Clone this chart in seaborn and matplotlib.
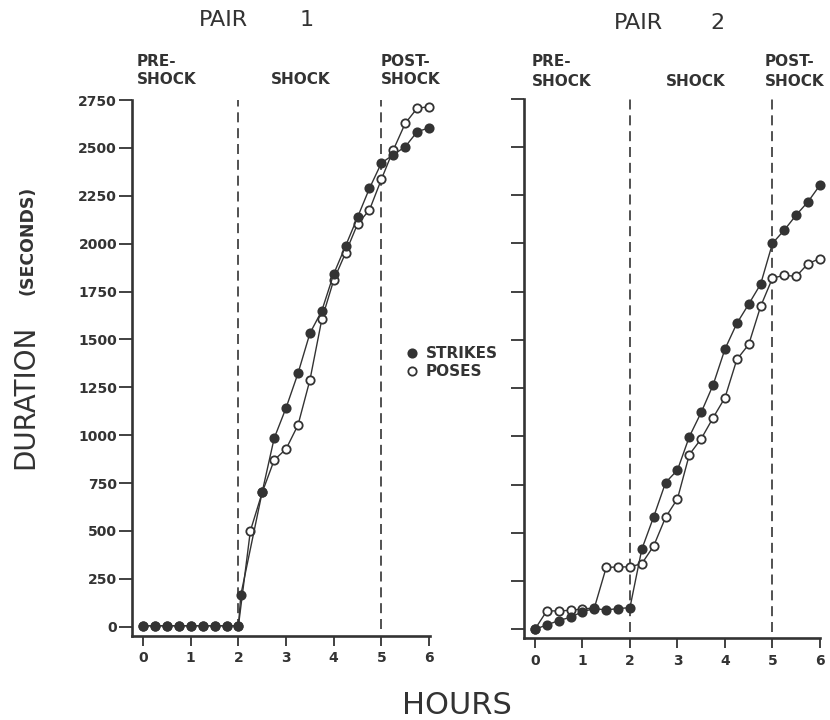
import matplotlib
matplotlib.use("Agg")
import matplotlib.pyplot as plt
from matplotlib.lines import Line2D
import seaborn as sns

# ---------------- data ----------------
p1_strikes_hours = [0, 0.25, 0.5, 0.75, 1, 1.25, 1.5, 1.75, 2, 2.05, 2.5, 2.75, 3, 3.25,
                    3.5, 3.75, 4, 4.25, 4.5, 4.75, 5, 5.25, 5.5, 5.75, 6]
p1_strikes_sec = [5, 5, 5, 5, 5, 5, 5, 5, 5, 166, 705, 984, 1143, 1323, 1532, 1650, 1842,
                  1989, 2138, 2289, 2421, 2464, 2506, 2584, 2605]
p1_poses_hours = [0, 0.25, 0.5, 0.75, 1, 1.25, 1.5, 1.75, 2, 2.25, 2.5, 2.75, 3, 3.25,
                  3.5, 3.75, 4, 4.25, 4.5, 4.75, 5, 5.25, 5.5, 5.75, 6]
p1_poses_sec = [5, 5, 5, 5, 5, 5, 5, 5, 5, 500, 702, 870, 928, 1053, 1288, 1605, 1810,
                1953, 2103, 2176, 2336, 2489, 2628, 2707, 2715]

p2_hours = [0, 0.25, 0.5, 0.75, 1, 1.25, 1.5, 1.75, 2, 2.25, 2.5, 2.75, 3, 3.25,
            3.5, 3.75, 4, 4.25, 4.5, 4.75, 5, 5.25, 5.5, 5.75, 6]
p2_strikes_sec = [0, 22, 45, 62, 91, 107, 100, 107, 112, 415, 583, 760, 825, 998, 1124,
                  1266, 1452, 1585, 1685, 1788, 2000, 2069, 2147, 2216, 2302]
p2_poses_sec = [0, 95, 95, 98, 105, 110, 320, 323, 323, 340, 432, 580, 676, 905, 987,
                1096, 1200, 1398, 1476, 1673, 1820, 1834, 1829, 1895, 1921]

y_ticks = [0, 250, 500, 750, 1000, 1250, 1500, 1750, 2000, 2250, 2500, 2750]
y_tick_labels = ["0", "250", "500", "750", "1000", "1250", "1500", "1750", "2000",
                 "2250", "2500", "2750"]
x_ticks = [0, 1, 2, 3, 4, 5, 6]
x_tick_labels = ["0", "1", "2", "3", "4", "5", "6"]
phase_bounds = [2, 5]
series_labels = ["STRIKES", "POSES"]

# ---------------- style ----------------
sns.set_style("ticks")
plt.rcParams["font.family"] = ["DejaVu Sans"]
INK = "#333333"
MS = 6.0

W, H = 830, 720
fig = plt.figure(figsize=(W / 100, H / 100), dpi=100)
fig.patch.set_facecolor("white")


def px_axes(left, top, right, bottom):
    return fig.add_axes([left / W, 1 - bottom / H, (right - left) / W, (bottom - top) / H])


ax1 = px_axes(131.7, 100, 430, 635.7)
ax2 = px_axes(524, 98.6, 820, 638.3)
ax1.set_xlim(-0.24, 6.02)
ax2.set_xlim(-0.23, 6.0)
ax1.set_ylim(-47, 2750)
ax2.set_ylim(-47, 2750)

line_kw = dict(color=INK, lw=1.0, marker="o", markersize=MS, markeredgewidth=1.3,
               markeredgecolor=INK, estimator=None, sort=False, clip_on=False)

panels = [
    (ax1, p1_poses_hours, p1_poses_sec, p1_strikes_hours, p1_strikes_sec),
    (ax2, p2_hours, p2_poses_sec, p2_hours, p2_strikes_sec),
]
for ax, ph, ps, sh, ss in panels:
    sns.lineplot(x=ph, y=ps, ax=ax, markerfacecolor="white", zorder=3, **line_kw)
    sns.lineplot(x=sh, y=ss, ax=ax, markerfacecolor=INK, zorder=4, **line_kw)
    for b in phase_bounds:
        ax.axvline(b, ymin=0.012, ymax=1, color=INK, lw=1.2, ls=(0, (6, 3.5)), zorder=1)
    for s in ["top", "right"]:
        ax.spines[s].set_visible(False)
    for s in ["left", "bottom"]:
        ax.spines[s].set_linewidth(1.9)
        ax.spines[s].set_color(INK)
    ax.set_xticks(x_ticks)
    ax.set_xticklabels(x_tick_labels, fontsize=10, fontweight="bold", color=INK)
    ax.set_yticks(y_ticks)
    ax.tick_params(axis="y", direction="out", length=9.5, width=1.3, color=INK, pad=1)
    ax.tick_params(axis="x", direction="out", length=7, width=1.3, color=INK, pad=4)
    ax.set_xlabel("")
    ax.set_ylabel("")
    ax.grid(False)

ax1.set_yticklabels(y_tick_labels, fontsize=10, fontweight="bold", color=INK)
ax2.set_yticklabels([])

# ---------------- texts ----------------
def ftext(x, y, s, **kw):
    fig.text(x / W, 1 - y / H, s, color=INK, **kw)


ftext(223, 20, "PAIR", fontsize=16, ha="center", va="center")
ftext(307, 20, "1", fontsize=16, ha="center", va="center")
ftext(638, 23, "PAIR", fontsize=16, ha="center", va="center")
ftext(717, 23, "2", fontsize=16, ha="center", va="center")

ann = dict(fontsize=11, fontweight="bold", va="center")
ftext(137, 61, "PRE-", ha="left", **ann)
ftext(137, 79, "SHOCK", ha="left", **ann)
ftext(301, 79, "SHOCK", ha="center", **ann)
ftext(381, 61, "POST-", ha="left", **ann)
ftext(381, 79, "SHOCK", ha="left", **ann)
ftext(532, 61, "PRE-", ha="left", **ann)
ftext(532, 81, "SHOCK", ha="left", **ann)
ftext(696, 81, "SHOCK", ha="center", **ann)
ftext(765, 61, "POST-", ha="left", **ann)
ftext(765, 81, "SHOCK", ha="left", **ann)

ftext(457, 705, "HOURS", fontsize=22, ha="center", va="center")
fig.text(33 / W, 1 - 397 / H, "DURATION", fontsize=20, rotation=90, rotation_mode="anchor",
         ha="center", va="baseline", color=INK)
fig.text(33 / W, 1 - 240 / H, "(SECONDS)", fontsize=12.5, fontweight="bold", rotation=90,
         rotation_mode="anchor", ha="center", va="baseline", color=INK)

handles = [
    Line2D([], [], ls="none", marker="o", markersize=MS, markerfacecolor=INK,
           markeredgecolor=INK, markeredgewidth=1.3),
    Line2D([], [], ls="none", marker="o", markersize=MS, markerfacecolor="white",
           markeredgecolor=INK, markeredgewidth=1.3),
]
leg = fig.legend(handles, series_labels, loc="upper left",
                 bbox_to_anchor=(406 / W, 1 - 346 / H), frameon=False,
                 handlelength=0.8, handletextpad=0.5, labelspacing=0.2,
                 borderpad=0, borderaxespad=0,
                 prop={"size": 11, "weight": "bold"})
for t in leg.get_texts():
    t.set_color(INK)

fig.savefig("out.png", dpi=100, facecolor="white")
